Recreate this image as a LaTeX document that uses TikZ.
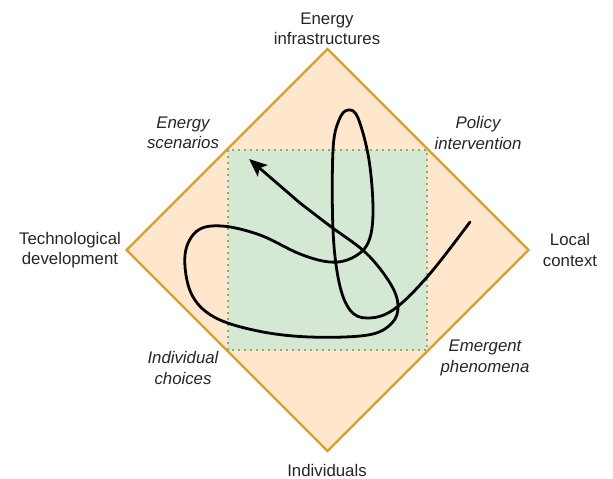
\documentclass[tikz,border=0pt]{standalone}
\usepackage{fontspec}
\setmainfont{Liberation Sans}
\usetikzlibrary{arrows.meta}
\definecolor{peach}{HTML}{FFE6CC}
\definecolor{gold}{HTML}{D4A032}
\definecolor{lgreen}{HTML}{D5E8D4}
\definecolor{dgreen}{HTML}{82B366}
\tikzset{
  lbl/.style={align=center, font=\fontsize{16.8}{20.5}\selectfont, text=black!85, inner sep=0pt},
  ilbl/.style={lbl, font=\fontsize{16.8}{20.5}\selectfont\itshape},
  path/.style={line width=2.8pt, line cap=round, line join=round}
}
\begin{document}
\begin{tikzpicture}[x=1pt,y=-1pt]
\useasboundingbox (0,0) rectangle (613,479);
\fill[white] (0,0) rectangle (613,479);
\coordinate (T) at (327.5,49);
\coordinate (R) at (528.5,250);
\coordinate (B) at (327.5,451);
\coordinate (L) at (126.5,250);
\filldraw[fill=peach, draw=gold, line width=2.4pt, line join=miter] (T) -- (R) -- (B) -- (L) -- cycle;
\filldraw[fill=lgreen, draw=dgreen, line width=2.6pt, dash pattern=on 2.4pt off 3.6pt] (228,150) rectangle (427,350);

\node[lbl] (ei) at (327,29) {Energy\\infrastructures};
\node[lbl] (td) at (70,250) {Technological\\development};
\node[lbl] (lc) at (570,250) {Local\\context};
\node[lbl] (ind) at (327,470) {Individuals};
\node[ilbl] (es) at (183,133) {Energy\\scenarios};
\node[ilbl] (pi) at (478,133) {Policy\\intervention};
\node[ilbl] (ic) at (183,368) {Individual\\choices};
\node[ilbl] (ep) at (485,358) {Emergent\\phenomena};

\draw[path] plot[smooth, tension=0.6] coordinates {
 (470,222) (428,276) (393,310) (367,318) (350,310) (339,282) (333,230) (333,150) (339,120) (348,110) (358,118) (369,160) (373,212) (368,243) (352,258) (330,262) (300,254) (260,235) (222,226) (197,231) (185,255) (191,293) (214,317) (258,331) (310,337) (368,335) (392,323) (398,305) (390,283) (366,253) (330,226) (300,203)};
\draw[path, -{Stealth[length=18pt,width=15pt,inset=4pt]}] (300,203) -- (249,159);
\end{tikzpicture}
\end{document}
